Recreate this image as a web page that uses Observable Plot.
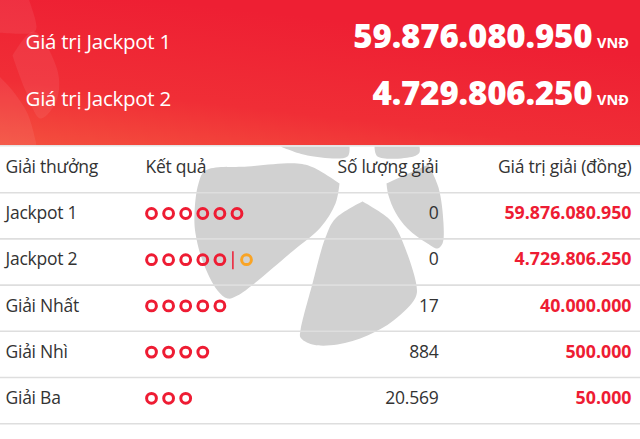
<!DOCTYPE html>
<html><head><meta charset="utf-8">
<style>html,body{margin:0;padding:0;background:#fff}svg{display:block}
.tight text{letter-spacing:-0.25px}
.bigNum text{letter-spacing:-0.15px}
</style>
<script src="https://cdn.jsdelivr.net/npm/d3@7"></script>
<script src="https://cdn.jsdelivr.net/npm/@observablehq/plot@0.6"></script>
</head><body><div id="chart"></div>
<script>
const jackpotLabels = ["Giá trị Jackpot 1", "Giá trị Jackpot 2"];
const jackpotValues = ["59.876.080.950", "4.729.806.250"];
const jackpotUnit = "VNĐ";
const headersLeft = ["Giải thưởng", "Kết quả"];
const headersRight = ["Số lượng giải", "Giá trị giải (đồng)"];
const prizeNames = ["Jackpot 1", "Jackpot 2", "Giải Nhất", "Giải Nhì", "Giải Ba"];
const matchedBalls = [6, 5, 5, 4, 3];
const bonusBall = [0, 1, 0, 0, 0];
const winners = ["0", "0", "17", "884", "20.569"];
const prizeValues = ["59.876.080.950", "4.729.806.250", "40.000.000", "500.000", "50.000"];

// Decorative logo outlines, page units
const logoPieces = [
  [[205,170],[247,166],[297,163],[313,167],[339,183],[339,183],[335,203],[320,227],[293,250],[237,295],[227,298],[217,290],[203,263],[195,233],[194,213],[198,183]],
  [[362,201],[362,201],[387,217],[397,230],[416,285],[415,297],[393,320],[367,335],[337,344],[312,344],[300,337],[300,330],[312,283],[325,237],[335,218]],
  [[386,183],[386,183],[428,164],[428,164],[438,187],[443,223],[442,243],[437,248],[427,243],[407,228],[395,212],[388,195]],
  [[280,146],[280,146],[307,155],[347,156],[349,146],[349,146]],
  [[374,146],[374,146],[377,156],[413,156],[419,152],[419,146],[419,146]]
];
const bannerPieces = [
  [[-2,-2],[-2,-2],[28,-2],[28,-2],[36,27],[33,32],[-2,32],[-2,32]],
  [[12,55],[12,55],[33,31],[57,70],[56,100],[40,118],[25,90]],
  [[-2,75],[-2,75],[12,90],[27,113],[35,140],[36,146],[36,146],[-2,146],[-2,146]]
];

const rowY = i => 213 + i * 46.2;
const rows = prizeNames.map((name, i) => ({name, i, y: rowY(i), winners: winners[i], value: prizeValues[i]}));
const balls = rows.flatMap(r => d3.range(matchedBalls[r.i]).map(k => ({x: 151 + k * 17.1, y: r.y})));
const bonus = rows.filter(r => bonusBall[r.i]).map(r => ({x: 246, y: r.y}));
const lines = [-1, 0, 1, 2, 3, 4].map(i => ({y: rowY(i) + 25.4}));
const flatten = ps => ps.flatMap((p, id) => p.map(([x, y]) => ({id, x, y})));
const font = "'Open Sans'";
const body = {fill:"#333", fontSize:17.5, fontFamily:font, className:"tight"};

const grad = () => {
  const s = d3.create("svg:defs");
  const g = s.append("linearGradient").attr("id","bannerGrad").attr("x1","0").attr("y1","1").attr("x2","0.45").attr("y2","0.1");
  g.append("stop").attr("offset","0").attr("stop-color","#f4503e");
  g.append("stop").attr("offset","0.4").attr("stop-color","#f02e36");
  g.append("stop").attr("offset","1").attr("stop-color","#ee1f33");
  return s.node();
};

const chart = Plot.plot({
  width: 640, height: 439, margin: 0,
  style: {background: "#fff", fontFamily: font},
  x: {domain: [0, 640], range: [0, 640], axis: null},
  y: {domain: [0, 439], range: [0, 439], axis: null},
  marks: [
    grad,
    Plot.rect([{x1:0,x2:640,y1:0,y2:145}], {x1:"x1",x2:"x2",y1:"y1",y2:"y2",fill:"url(#bannerGrad)"}),
    Plot.line(flatten(bannerPieces), {x:"x",y:"y",z:"id",fill:"#fff",fillOpacity:0.07,stroke:"none",curve:"catmull-rom-closed"}),
    Plot.line(flatten(logoPieces), {x:"x",y:"y",z:"id",fill:"#d1d1d1",stroke:"none",curve:"catmull-rom-closed"}),
    Plot.rect([{x1:0,x2:640,y1:145,y2:146.5}], {x1:"x1",x2:"x2",y1:"y1",y2:"y2",fill:"#e4e4e4"}),
    Plot.ruleY(lines, {y:"y",stroke:"#dedede",strokeWidth:1.6}),
    Plot.text(jackpotLabels, {x:()=>25,y:(d,i)=>[42,99][i],text:d=>d,textAnchor:"start",fill:"#fff",fontSize:20.5,fontFamily:font,className:"tight"}),
    Plot.text(jackpotValues, {x:()=>592,y:(d,i)=>[37,94][i],text:d=>d,textAnchor:"end",fill:"#fff",fontSize:33,fontWeight:800,fontFamily:font,className:"bigNum"}),
    Plot.text(jackpotValues, {x:()=>628.5,y:(d,i)=>[43,100][i],text:()=>jackpotUnit,textAnchor:"end",fill:"#fff",fontSize:14.5,fontWeight:700,fontFamily:font}),
    Plot.text(headersLeft, {x:(d,i)=>[5,145][i],y:()=>167,text:d=>d,textAnchor:"start",...body}),
    Plot.text(headersRight, {x:(d,i)=>[438,631][i],y:()=>167,text:d=>d,textAnchor:"end",...body}),
    Plot.text(rows, {x:()=>5,y:"y",text:"name",textAnchor:"start",...body}),
    Plot.text(rows, {x:()=>438,y:"y",text:"winners",textAnchor:"end",...body}),
    Plot.text(rows, {x:()=>631,y:"y",text:"value",textAnchor:"end",fill:"#ee1c33",fontSize:17.8,fontWeight:700,fontFamily:font}),
    Plot.dot(balls, {x:"x",y:"y",r:4.9,stroke:"#ee1c33",strokeWidth:3,fill:"none"}),
    Plot.dot(bonus, {x:"x",y:"y",r:4.9,stroke:"#f9a425",strokeWidth:3,fill:"none"}),
    Plot.ruleX(bonus, {x:()=>232.4,y1:d=>d.y-8,y2:d=>d.y+10,stroke:"#ee1c33",strokeWidth:1.5})
  ]
});
document.getElementById("chart").append(chart);
</script></body></html>
